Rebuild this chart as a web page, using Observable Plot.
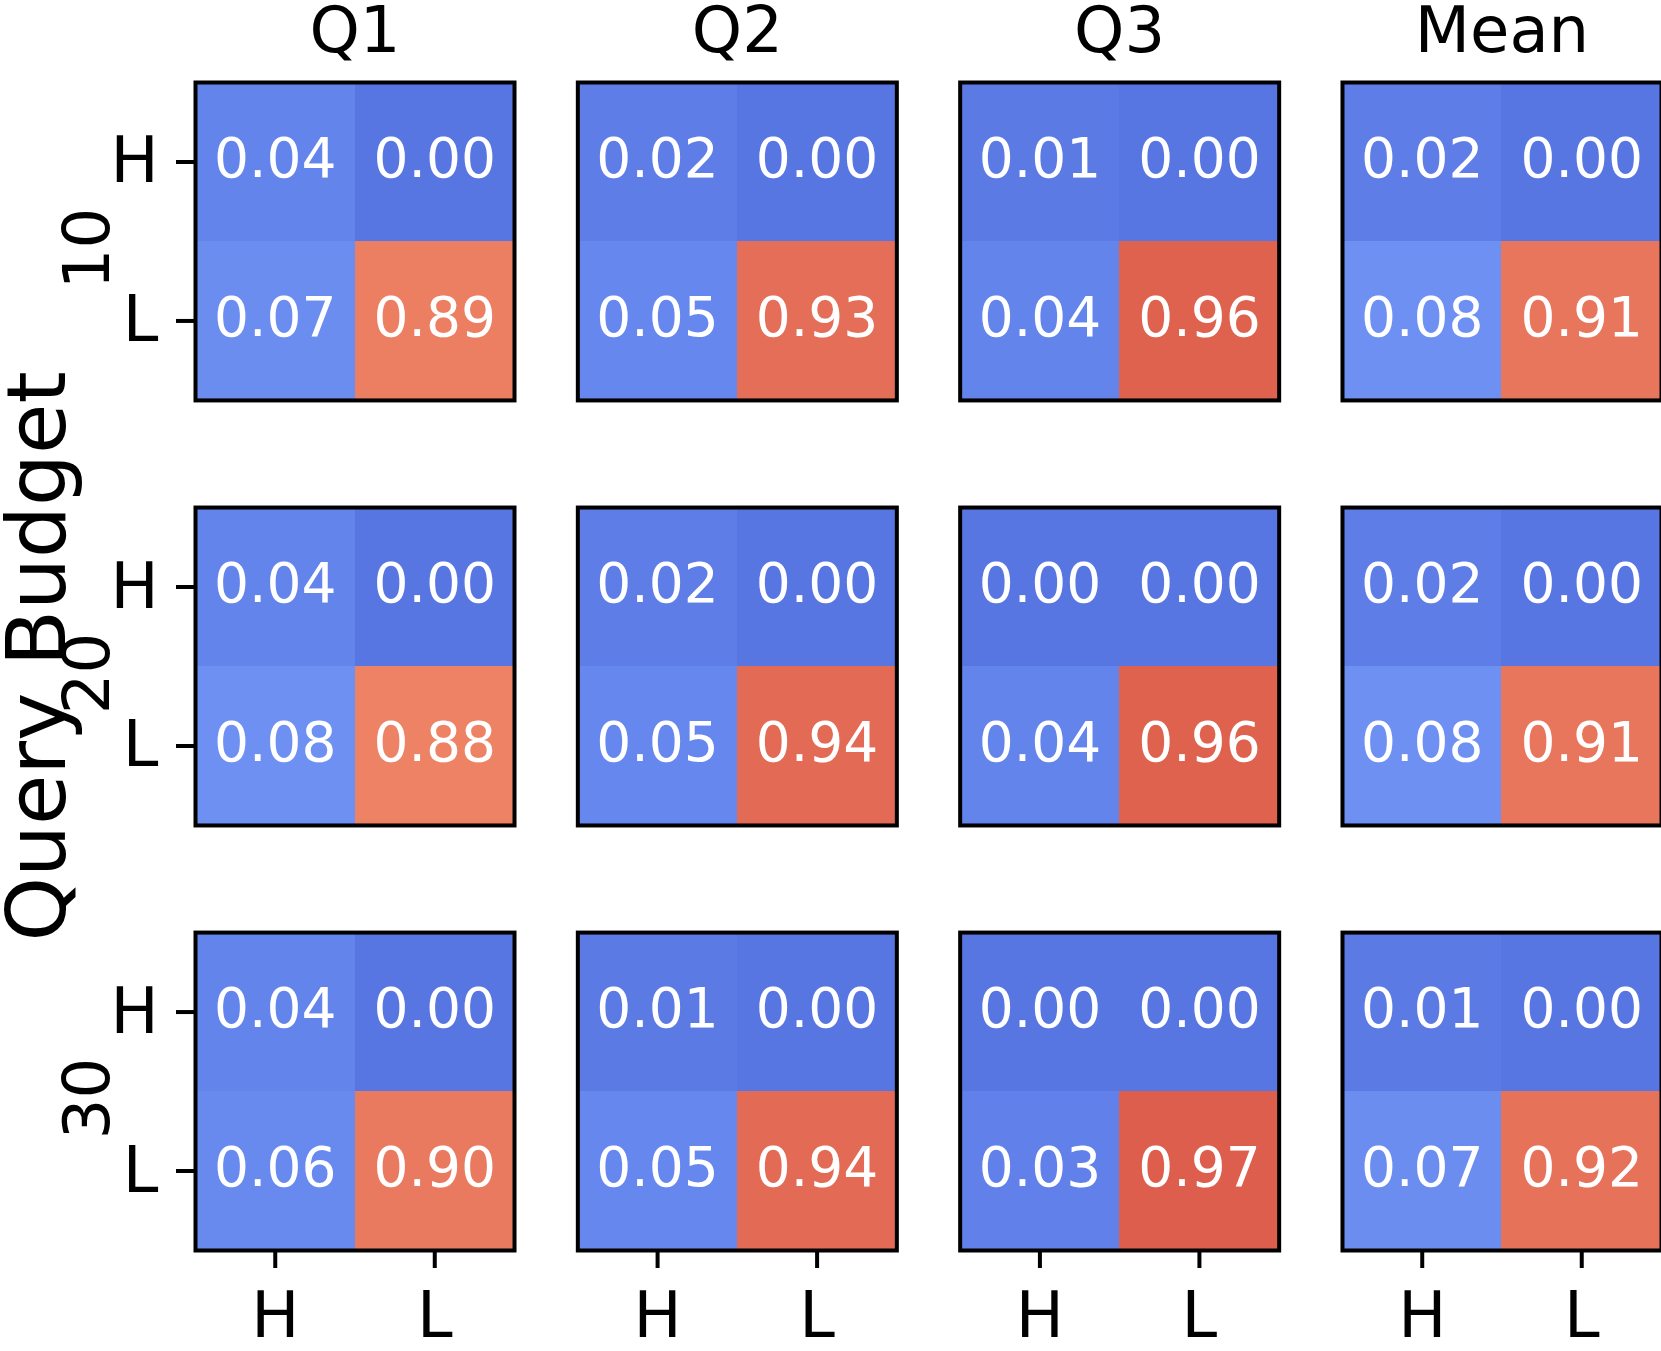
<!DOCTYPE html>
<html>
<head>
<meta charset="utf-8">
<script src="https://cdn.jsdelivr.net/npm/d3@7"></script>
<script src="https://cdn.jsdelivr.net/npm/@observablehq/plot@0.6"></script>
<style>
  html, body { margin: 0; padding: 0; background: #fff; }
</style>
</head>
<body>
<div id="chart"></div>
<script>
// ---- data ----
const metrics = ["Q1", "Q2", "Q3", "Mean"];
const budgets = ["10", "20", "30"];
const classes = ["H", "L"];          // tick labels (true rows / predicted columns)
// each row: [H→H, H→L, L→H, L→L] for budgets 10, 20, 30
const q1   = [[0.04, 0.00, 0.07, 0.89], [0.04, 0.00, 0.08, 0.88], [0.04, 0.00, 0.06, 0.90]];
const q2   = [[0.02, 0.00, 0.05, 0.93], [0.02, 0.00, 0.05, 0.94], [0.01, 0.00, 0.05, 0.94]];
const q3   = [[0.01, 0.00, 0.04, 0.96], [0.00, 0.00, 0.04, 0.96], [0.00, 0.00, 0.03, 0.97]];
const mean = [[0.02, 0.00, 0.08, 0.91], [0.02, 0.00, 0.08, 0.91], [0.01, 0.00, 0.07, 0.92]];
const seriesByMetric = [q1, q2, q3, mean];

const table = [];
metrics.forEach((m, mi) => {
  budgets.forEach((b, bi) => {
    seriesByMetric[mi][bi].forEach((v, k) => {
      table.push({metric: m, budget: b, truth: classes[Math.floor(k / 2)], pred: classes[k % 2], value: v});
    });
  });
});

// coolwarm (Moreland) colour stops
const coolwarmStops = [
  "#3b4cc0","#445acc","#4d68d7","#5775e1","#6282ea","#6c8ef1","#779af7","#82a5fb",
  "#8db0fe","#98b9ff","#a3c2ff","#aec9fd","#b8d0f9","#c2d5f4","#ccd9ee","#d5dbe6",
  "#dddddd","#e5d8d1","#ecd3c5","#f1ccb9","#f5c4ad","#f7bba0","#f7b194","#f7a687",
  "#f49a7b","#f18d6f","#ec7f63","#e57058","#de604d","#d55042","#cb3e38","#c0282f","#b40426"
];
const coolwarm = d3.piecewise(d3.interpolateRgb, coolwarmStops);

const chart = Plot.plot({
  width: 1661,
  height: 1351,
  marginLeft: 195,
  marginRight: 0,
  marginTop: 82,
  marginBottom: 101,
  style: {fontFamily: "DejaVu Sans", background: "white"},
  fx: {domain: metrics, paddingInner: 0.1656, paddingOuter: 0, round: false, label: null},
  fy: {domain: budgets, paddingInner: 0.252, paddingOuter: 0, round: false, label: null},
  x: {domain: classes, padding: 0, round: false, label: null},
  y: {domain: classes, padding: 0, round: false, label: null},
  color: {type: "linear", domain: [-0.12, 1.12], interpolate: coolwarm},
  marks: [
    Plot.cell(table, {
      x: "pred", y: "truth", fx: "metric", fy: "budget",
      fill: "value", inset: 0, shapeRendering: "crispEdges"
    }),
    Plot.text(table, {
      x: "pred", y: "truth", fx: "metric", fy: "budget",
      text: d => d.value.toFixed(2), fill: "white", fontSize: 55, dy: -3
    }),
    Plot.frame({stroke: "black", strokeWidth: 4}),
    Plot.axisX({anchor: "bottom", tickSize: 18, tickPadding: 23, fontSize: 64, strokeWidth: 4, label: null}),
    Plot.axisY({anchor: "left", tickSize: 19, tickPadding: 18, fontSize: 64, strokeWidth: 4, dy: 0, label: null}),
    Plot.axisFx({anchor: "top", tickSize: 0, tickPadding: 31, fontSize: 64, label: null}),
    Plot.axisFy({anchor: "left", tickSize: 0, tickPadding: 87, tickRotate: -90, fontSize: 64, dy: 7, label: null}),
    Plot.text(["Query Budget"], {
      facet: "super", frameAnchor: "left", text: d => d,
      rotate: -90, lineAnchor: "bottom", textAnchor: "middle",
      dx: -131, dy: -10, fontSize: 82, fill: "black"
    })
  ]
});

document.getElementById("chart").appendChild(chart);
</script>
</body>
</html>
